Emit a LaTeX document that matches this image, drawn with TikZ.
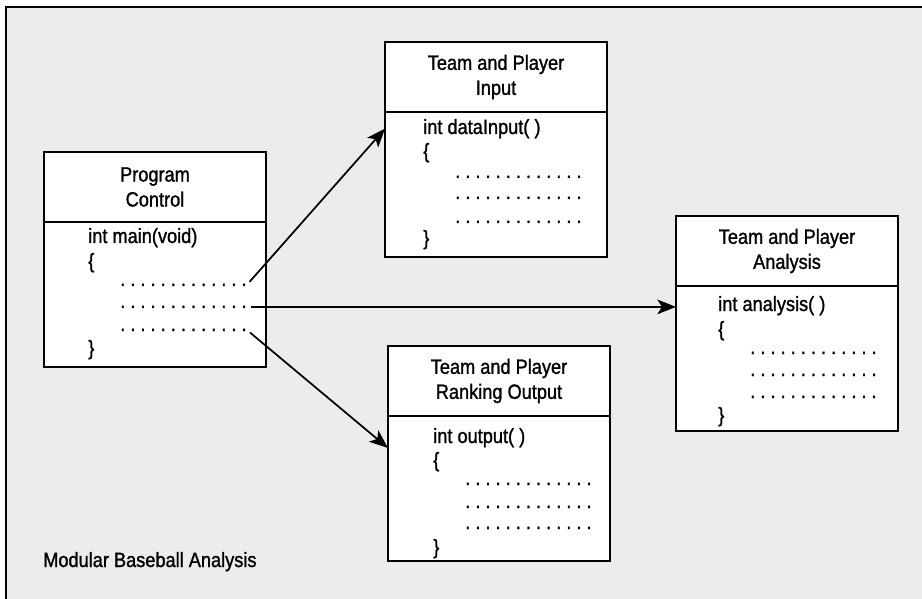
\documentclass[tikz,border=0pt]{standalone}
\usepackage{fontspec}
\setmainfont{Liberation Sans}[FakeStretch=0.88,FakeBold=1.2]
\usetikzlibrary{arrows.meta, positioning}
\definecolor{paper}{HTML}{ECECEC}
\newcommand{\boxfont}{\fontsize{15.5pt}{18.75pt}\selectfont\frenchspacing}
\newcommand{\dotrow}{. . . . . . . . . . . . .}

\begin{document}
\begin{tikzpicture}[x=0.75pt,y=0.75pt,yscale=-1,xscale=1,
  head/.style={draw, fill=white, line width=1.5pt, outer sep=0pt, inner sep=0pt, minimum width=166.5pt, minimum height=52.5pt, align=center, font=\boxfont},
  body/.style={draw, fill=white, line width=1.5pt, outer sep=0pt, inner sep=0pt, minimum width=166.5pt, minimum height=108.75pt},
  code/.style={anchor=base west, inner sep=0pt, font=\boxfont},
  link/.style={line width=1.3pt, -{Stealth[length=14pt,width=11pt,inset=3.5pt]}, shorten <=3pt}]
\useasboundingbox (0,0) rectangle (922,599);

%Shape: Frame
\fill[paper] (6,7) rectangle (922,599);
\draw[line width=1.8pt] (6,599) -- (6,7) -- (922,7);

%Shape: Program Control
\node[head, anchor=north west] (mainHead) at (44,152) {Program\\Control};
\node[body, below=0pt of mainHead] (mainBody) {};
% Text Node
\draw (88,243) node[code] (mainSig) {int main(void)};
\draw (88,268) node[code] (mainOpen) {\{};
\draw (120,286) node[code] (mainDotsA) {\dotrow};
\draw (120,308) node[code] (mainDotsB) {\dotrow};
\draw (120,331) node[code] (mainDotsC) {\dotrow};
\draw (88,355) node[code] (mainClose) {\}};

%Shape: Team and Player Input
\node[head, anchor=north west] (inpHead) at (385,42) {Team and Player\\Input};
\node[body, below=0pt of inpHead] (inpBody) {};
% Text Node
\draw (423,134) node[code] (inpSig) {int dataInput( )};
\draw (423,158) node[code] (inpOpen) {\{};
\draw (455,178) node[code] (inpDotsA) {\dotrow};
\draw (455,199) node[code] (inpDotsB) {\dotrow};
\draw (455,223) node[code] (inpDotsC) {\dotrow};
\draw (423,245) node[code] (inpClose) {\}};

%Shape: Team and Player Analysis
\node[head, anchor=north west] (anaHead) at (676,216) {Team and Player\\Analysis};
\node[body, below=0pt of anaHead] (anaBody) {};
% Text Node
\draw (718,311) node[code] (anaSig) {int analysis( )};
\draw (718,336) node[code] (anaOpen) {\{};
\draw (750,354) node[code] (anaDotsA) {\dotrow};
\draw (750,376) node[code] (anaDotsB) {\dotrow};
\draw (750,398) node[code] (anaDotsC) {\dotrow};
\draw (718,422) node[code] (anaClose) {\}};

%Shape: Team and Player Ranking Output
\node[head, anchor=north west] (outHead) at (388,346) {Team and Player\\Ranking Output};
\node[body, below=0pt of outHead] (outBody) {};
% Text Node
\draw (433,443) node[code] (outSig) {int output( )};
\draw (433,467) node[code] (outOpen) {\{};
\draw (465,485) node[code] (outDotsA) {\dotrow};
\draw (465,508) node[code] (outDotsB) {\dotrow};
\draw (465,529) node[code] (outDotsC) {\dotrow};
\draw (433,554) node[code] (outClose) {\}};

% Text Node
\draw (43,567) node[code] (caption) {Modular Baseball Analysis};

%Straight Lines
\coordinate (outIn) at (388,448);
\draw[link] (mainDotsA.east) -- (inpBody.west |- inpSig);
\draw[link] (mainDotsB.east) -- (mainDotsB.east -| anaBody.west);
\draw[link] (mainDotsC.east) -- (outIn);

\end{tikzpicture}
\end{document}
